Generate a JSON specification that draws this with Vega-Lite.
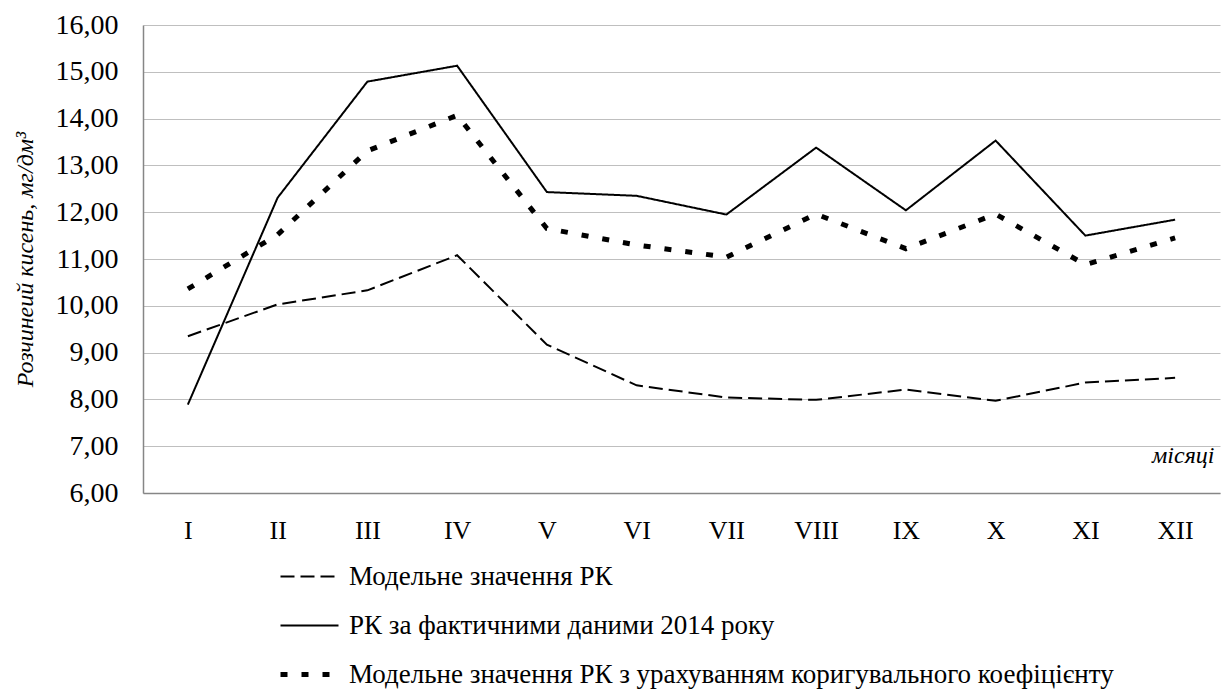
{
  "$schema": "https://vega.github.io/schema/vega-lite/v6.json",
  "autosize": {"type": "none"},
  "padding": {"left": 143, "top": 25, "right": 1, "bottom": 206},
  "width": 1077,
  "height": 468,
  "background": "white",
  "config": {
    "font": "Liberation Serif",
    "view": {"stroke": null},
    "axis": {"labelFont": "Liberation Serif", "titleFont": "Liberation Serif"},
    "legend": {"labelFont": "Liberation Serif", "titleFont": "Liberation Serif"}
  },
  "data": {
    "values": [
      {"month": "I", "series": "Модельне значення РК", "value": 9.35},
      {"month": "II", "series": "Модельне значення РК", "value": 10.03},
      {"month": "III", "series": "Модельне значення РК", "value": 10.33},
      {"month": "IV", "series": "Модельне значення РК", "value": 11.08},
      {"month": "V", "series": "Модельне значення РК", "value": 9.17},
      {"month": "VI", "series": "Модельне значення РК", "value": 8.30},
      {"month": "VII", "series": "Модельне значення РК", "value": 8.04},
      {"month": "VIII", "series": "Модельне значення РК", "value": 7.99},
      {"month": "IX", "series": "Модельне значення РК", "value": 8.21},
      {"month": "X", "series": "Модельне значення РК", "value": 7.97},
      {"month": "XI", "series": "Модельне значення РК", "value": 8.36},
      {"month": "XII", "series": "Модельне значення РК", "value": 8.46},
      {"month": "I", "series": "РК за фактичними даними 2014 року", "value": 7.89},
      {"month": "II", "series": "РК за фактичними даними 2014 року", "value": 12.31},
      {"month": "III", "series": "РК за фактичними даними 2014 року", "value": 14.79},
      {"month": "IV", "series": "РК за фактичними даними 2014 року", "value": 15.13},
      {"month": "V", "series": "РК за фактичними даними 2014 року", "value": 12.43},
      {"month": "VI", "series": "РК за фактичними даними 2014 року", "value": 12.35},
      {"month": "VII", "series": "РК за фактичними даними 2014 року", "value": 11.95},
      {"month": "VIII", "series": "РК за фактичними даними 2014 року", "value": 13.38},
      {"month": "IX", "series": "РК за фактичними даними 2014 року", "value": 12.04},
      {"month": "X", "series": "РК за фактичними даними 2014 року", "value": 13.53},
      {"month": "XI", "series": "РК за фактичними даними 2014 року", "value": 11.50},
      {"month": "XII", "series": "РК за фактичними даними 2014 року", "value": 11.84},
      {"month": "I", "series": "Модельне значення РК з урахуванням коригувального коефіцієнту", "value": 10.36},
      {"month": "II", "series": "Модельне значення РК з урахуванням коригувального коефіцієнту", "value": 11.52},
      {"month": "III", "series": "Модельне значення РК з урахуванням коригувального коефіцієнту", "value": 13.31},
      {"month": "IV", "series": "Модельне значення РК з урахуванням коригувального коефіцієнту", "value": 14.07},
      {"month": "V", "series": "Модельне значення РК з урахуванням коригувального коефіцієнту", "value": 11.65},
      {"month": "VI", "series": "Модельне значення РК з урахуванням коригувального коефіцієнту", "value": 11.30},
      {"month": "VII", "series": "Модельне значення РК з урахуванням коригувального коефіцієнту", "value": 11.04},
      {"month": "VIII", "series": "Модельне значення РК з урахуванням коригувального коефіцієнту", "value": 11.96},
      {"month": "IX", "series": "Модельне значення РК з урахуванням коригувального коефіцієнту", "value": 11.22},
      {"month": "X", "series": "Модельне значення РК з урахуванням коригувального коефіцієнту", "value": 11.96},
      {"month": "XI", "series": "Модельне значення РК з урахуванням коригувального коефіцієнту", "value": 10.88},
      {"month": "XII", "series": "Модельне значення РК з урахуванням коригувального коефіцієнту", "value": 11.45}
    ]
  },
  "encoding": {
    "x": {
      "field": "month",
      "type": "ordinal",
      "sort": ["I", "II", "III", "IV", "V", "VI", "VII", "VIII", "IX", "X", "XI", "XII"],
      "scale": {"paddingInner": 0, "paddingOuter": 0.5},
      "axis": {
        "title": "місяці",
        "titleFont": "Liberation Serif",
        "titleFontStyle": "italic",
        "titleFontWeight": "normal",
        "titleFontSize": 24,
        "titleColor": "black",
        "titleAnchor": "end",
        "titleAlign": "right",
        "titleBaseline": "middle",
        "titleX": 1071,
        "titleY": -38,
        "labelAngle": 0,
        "labelFont": "Liberation Serif",
        "labelFontSize": 26,
        "labelColor": "black",
        "labelPadding": 24,
        "ticks": false,
        "domainColor": "#868686",
        "domainWidth": 1.5,
        "grid": false
      }
    },
    "y": {
      "field": "value",
      "type": "quantitative",
      "scale": {"domain": [6, 16], "nice": false, "zero": false},
      "axis": {
        "title": "Розчинеий кисень, мг/дм³",
        "titleFont": "Liberation Serif",
        "titleFontStyle": "italic",
        "titleFontWeight": "normal",
        "titleFontSize": 24,
        "titleColor": "black",
        "titlePadding": 18,
        "values": [6, 7, 8, 9, 10, 11, 12, 13, 14, 15, 16],
        "labelExpr": "replace(format(datum.value, '.2f'), '.', ',')",
        "labelFont": "Liberation Serif",
        "labelFontSize": 28,
        "labelColor": "black",
        "labelPadding": 25,
        "ticks": false,
        "domainColor": "#868686",
        "domainWidth": 1.5,
        "grid": true,
        "gridColor": "#bfbfbf",
        "gridWidth": 1
      }
    },
    "strokeDash": {
      "field": "series",
      "type": "nominal",
      "scale": {
        "domain": ["Модельне значення РК", "РК за фактичними даними 2014 року", "Модельне значення РК з урахуванням коригувального коефіцієнту"],
        "range": [[14, 6], [1, 0], [7, 14]]
      },
      "legend": {
        "title": null,
        "orient": "none",
        "legendX": 153,
        "legendY": 538,
        "direction": "vertical",
        "symbolType": "stroke",
        "symbolSize": 3364,
        "symbolStrokeColor": "black",
        "symbolStrokeWidth": 2,
        "labelFont": "Liberation Serif",
        "labelFontSize": 27,
        "labelColor": "black",
        "labelOffset": 26,
        "labelLimit": 1000,
        "rowPadding": 21,
        "encode": {
          "symbols": {
            "update": {
              "strokeWidth": {"signal": "datum.value === 'Модельне значення РК з урахуванням коригувального коефіцієнту' ? 5 : 2"}
            }
          }
        }
      }
    }
  },
  "layer": [
    {
      "transform": [{"filter": "datum.series === 'Модельне значення РК'"}],
      "mark": {"type": "line", "color": "black", "strokeWidth": 2, "strokeCap": "butt", "strokeJoin": "miter"}
    },
    {
      "transform": [{"filter": "datum.series === 'РК за фактичними даними 2014 року'"}],
      "mark": {"type": "line", "color": "black", "strokeWidth": 2, "strokeCap": "butt", "strokeJoin": "miter"}
    },
    {
      "transform": [{"filter": "datum.series === 'Модельне значення РК з урахуванням коригувального коефіцієнту'"}],
      "mark": {"type": "line", "color": "black", "strokeWidth": 5, "strokeCap": "butt", "strokeJoin": "miter"}
    }
  ]
}
